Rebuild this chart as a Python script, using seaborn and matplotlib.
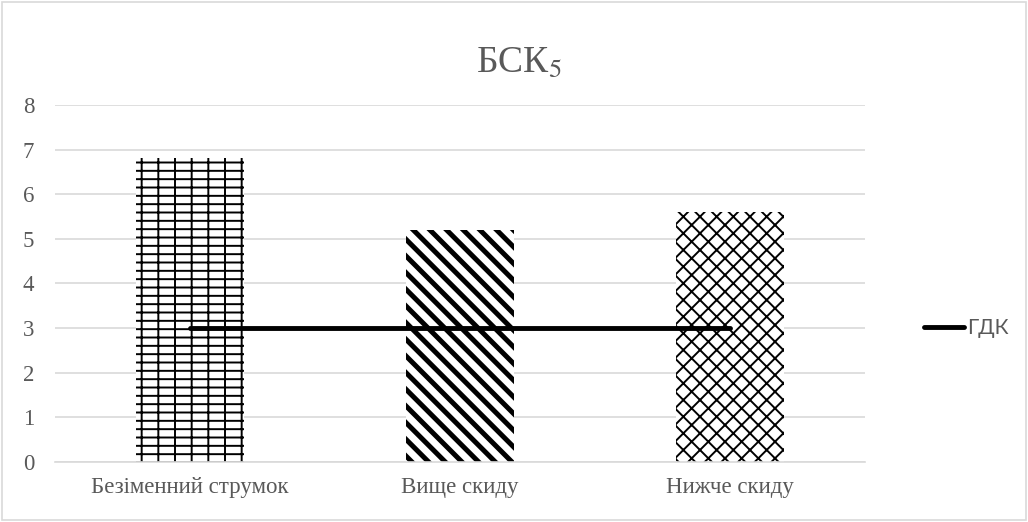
import numpy as np
import pandas as pd
import matplotlib
matplotlib.use("Agg")
import matplotlib.pyplot as plt
import seaborn as sns
from matplotlib.patches import Rectangle

# data
sites = ["Безіменний струмок", "Вище скиду", "Нижче скиду"]
bsk5 = [6.8, 5.2, 5.6]
gdk = [3, 3, 3]
hatches = ["+-", "\\\\", "xx"]

sns.set_style("white")
plt.rcParams["font.family"] = ["Liberation Serif", "DejaVu Serif"]
plt.rcParams["mathtext.fontset"] = "stix"
plt.rcParams["hatch.color"] = "black"
plt.rcParams["hatch.linewidth"] = 1.4

df = pd.DataFrame({"site": sites, "value": bsk5})

fig = plt.figure(figsize=(10.28, 5.22), dpi=100)
ax = fig.add_axes([0.0535, 0.115, 0.788, 0.684])

sns.barplot(data=df, x="site", y="value", ax=ax, color="white",
            width=0.4, edgecolor="none", linewidth=0)
for bar, h in zip(ax.patches, hatches):
    bar.set_hatch(h)
    bar.set_edgecolor("black")
    bar.set_linewidth(0)
    if h == "\\\\" and hasattr(bar, "set_hatch_linewidth"):
        bar.set_hatch_linewidth(3.6)

sns.lineplot(x=np.arange(len(sites)), y=gdk, ax=ax, color="black",
             linewidth=3.5, label="ГДК", solid_capstyle="round")

ax.set_ylim(0, 8)
ax.set_xlim(-0.5, 2.5)
ax.set_yticks(range(0, 9))
ax.yaxis.grid(True, color="#d9d9d9", linewidth=1.2)
ax.set_axisbelow(True)
for s in ["top", "right", "left"]:
    ax.spines[s].set_visible(False)
ax.spines["bottom"].set_color("#d9d9d9")
ax.spines["bottom"].set_linewidth(1.2)
ax.tick_params(axis="both", length=0, labelsize=16.5, colors="#595959", pad=11)
ax.tick_params(axis="y", pad=15)
ax.set_xlabel("")
ax.set_ylabel("")

fig.text(0.505, 0.88, "БСК$_5$", fontsize=27, color="#595959", ha="center", va="center")

leg = ax.legend(loc="center left", bbox_to_anchor=(1.05, 0.375), frameon=False,
                handlelength=1.9, handletextpad=0.15,
                prop={"family": ["Lato", "DejaVu Sans"], "size": 15})
for t in leg.get_texts():
    t.set_color("#595959")

fig.patches.append(Rectangle((0.002, 0.003), 0.996, 0.994, transform=fig.transFigure,
                             fill=False, edgecolor="#d9d9d9", linewidth=1.2))

fig.savefig("out.png", dpi=100, facecolor="white")
